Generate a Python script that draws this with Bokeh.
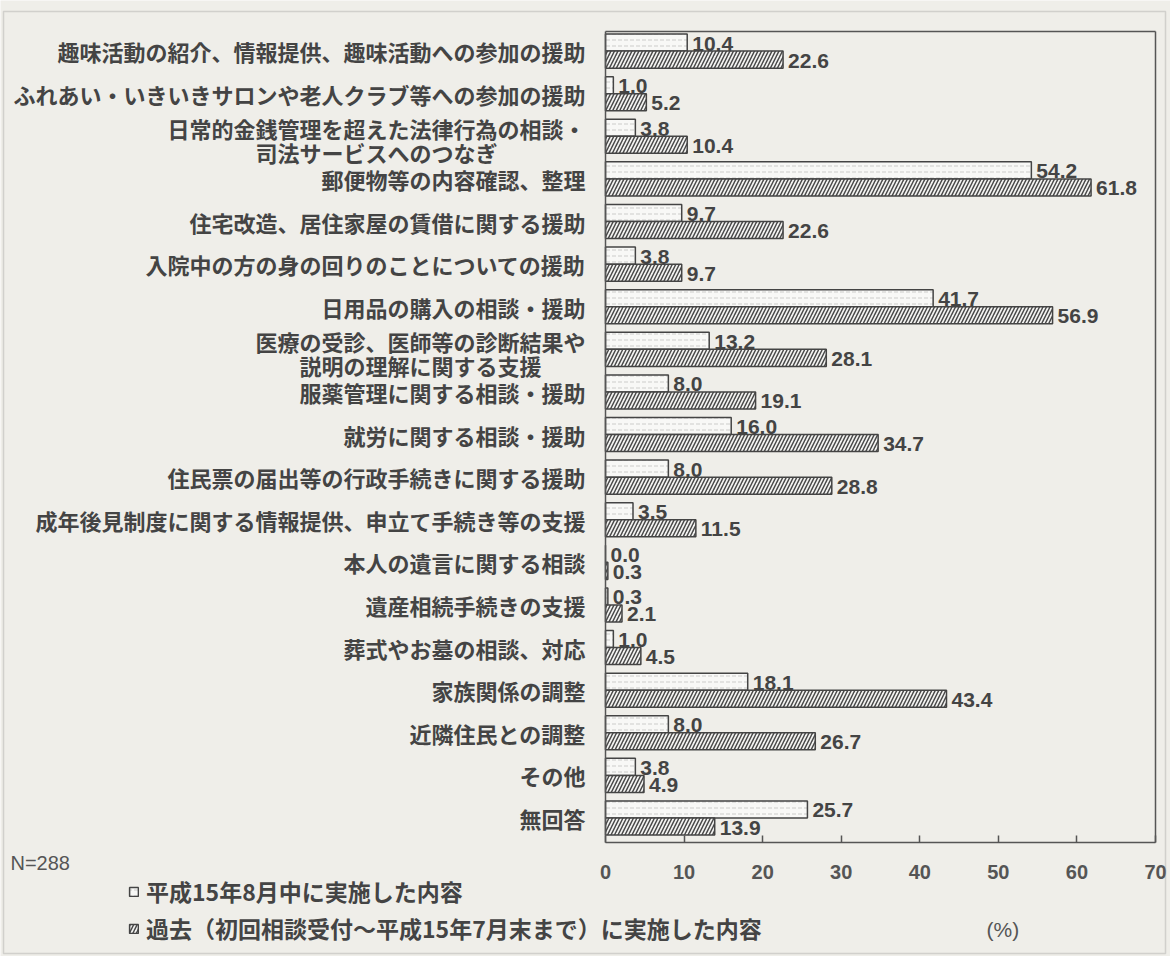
from bokeh.plotting import figure
from bokeh.models import (Range1d, FixedTicker, ColumnDataSource, LabelSet,
                          Legend, LegendItem, Label, LinearAxis, BoxAnnotation)
from bokeh.core.properties import value
from bokeh.embed import file_html
from bokeh.resources import INLINE

# ---------------- data ----------------
categories = [
    "趣味活動の紹介、情報提供、趣味活動への参加の援助",
    "ふれあい・いきいきサロンや老人クラブ等への参加の援助",
    "日常的金銭管理を超えた法律行為の相談・\n司法サービスへのつなぎ",
    "郵便物等の内容確認、整理",
    "住宅改造、居住家屋の賃借に関する援助",
    "入院中の方の身の回りのことについての援助",
    "日用品の購入の相談・援助",
    "医療の受診、医師等の診断結果や\n説明の理解に関する支援",
    "服薬管理に関する相談・援助",
    "就労に関する相談・援助",
    "住民票の届出等の行政手続きに関する援助",
    "成年後見制度に関する情報提供、申立て手続き等の支援",
    "本人の遺言に関する相談",
    "遺産相続手続きの支援",
    "葬式やお墓の相談、対応",
    "家族関係の調整",
    "近隣住民との調整",
    "その他",
    "無回答",
]
aug_2003 = [10.4, 1.0, 3.8, 54.2, 9.7, 3.8, 41.7, 13.2, 8.0, 16.0, 8.0, 3.5,
            0.0, 0.3, 1.0, 18.1, 8.0, 3.8, 25.7]
past = [22.6, 5.2, 10.4, 61.8, 22.6, 9.7, 56.9, 28.1, 19.1, 34.7, 28.8, 11.5,
        0.3, 2.1, 4.5, 43.4, 26.7, 4.9, 13.9]
x_ticks = [0, 10, 20, 30, 40, 50, 60, 70]
legend_labels = ["平成15年8月中に実施した内容",
                 "過去（初回相談受付～平成15年7月末まで）に実施した内容"]
sample_note = "N=288"
unit_label = "(%)"

# ---------------- layout / styling ----------------
W, H = 1170, 956
PX_L, PX_R = 605, 1155      # pixel position of value 0 and 70
PY_T, PY_B = 31, 842        # pixel position of plot box top / bottom
X_MIN, X_MAX = 0, 70
Y_TOP, Y_BOT = -0.46, 18.575

sx = (PX_R - PX_L) / (X_MAX - X_MIN)
sy = (PY_B - PY_T) / (Y_BOT - Y_TOP)
x_range = Range1d(X_MIN - PX_L / sx, X_MAX + (W - PX_R) / sx)
y_range = Range1d(Y_BOT + (H - PY_B) / sy, Y_TOP - PY_T / sy)

BG = "#efeee9"
INK = "#444444"
FRAME = "#555555"
JP = "Noto Sans CJK JP"
NUM = "Liberation Sans"
CAT_FS = 22
CAT_STANDOFF = 20

n = len(categories)
idx = list(range(n))
BAR_H = 0.4
OFF = 0.2
LINE1_SHIFT, LINE2_SHIFT = -0.1875, 0.375   # two-line category labels

src1 = ColumnDataSource(dict(y=[i - OFF for i in idx], v=aug_2003,
                             t=[f"{v:.1f}" for v in aug_2003]))
src2 = ColumnDataSource(dict(y=[i + OFF for i in idx], v=past,
                             t=[f"{v:.1f}" for v in past]))

# split two-line category labels: first line on the axis, second line
# centred under the first one
tick_pos, overrides = [], {}
second = dict(x=[], y=[], t=[], xo=[])
for i, c in zip(idx, categories):
    parts = c.split("\n")
    if len(parts) == 1:
        tick_pos.append(i)
        overrides[i] = c
    else:
        tick_pos.append(i + LINE1_SHIFT)
        overrides[i + LINE1_SHIFT] = parts[0]
        second["x"].append(X_MIN)
        second["y"].append(i + LINE2_SHIFT)
        second["t"].append(parts[1])
        second["xo"].append(-(CAT_STANDOFF + len(parts[0]) * CAT_FS / 2))
src_second = ColumnDataSource(second)

p = figure(width=W, height=H, output_backend="svg", toolbar_location=None,
           x_range=x_range, y_range=y_range, x_axis_location=None,
           y_axis_location=None,
           min_border_left=0, min_border_right=0, min_border_top=0,
           min_border_bottom=0)
p.background_fill_color = BG
p.border_fill_color = BG
p.outline_line_color = None
p.xgrid.visible = False
p.ygrid.visible = False

# scanned page border
p.add_layout(BoxAnnotation(left=3, right=1165, top=11, bottom=953,
                           left_units="canvas", right_units="canvas",
                           top_units="canvas", bottom_units="canvas",
                           fill_alpha=0, line_color="#8c8c8c", line_width=1.5))

r1 = p.hbar(y="y", right="v", left=0, height=BAR_H, source=src1,
            fill_color="#f8f8f6", line_color=INK, line_width=1.5,
            hatch_pattern="horizontal_dash", hatch_color="#a0a0a0",
            hatch_alpha=0.5, hatch_scale=6, hatch_weight=1)
r2 = p.hbar(y="y", right="v", left=0, height=BAR_H, source=src2,
            fill_color="#f4f4f2", line_color=INK, line_width=1.5,
            hatch_pattern="right_diagonal_line", hatch_color="#4a4a4a",
            hatch_scale=7, hatch_weight=1.5)

for s in (src1, src2):
    p.add_layout(LabelSet(x="v", y="y", text="t", source=s, x_offset=5,
                          y_offset=-1,
                          text_baseline="middle", text_align="left",
                          text_font=value(NUM), text_font_style="bold",
                          text_font_size="21px", text_color=INK))

# y axis (left edge of the plot box) with category labels
ya = LinearAxis(fixed_location=X_MIN, bounds=(Y_TOP, Y_BOT))
ya.ticker = FixedTicker(ticks=tick_pos)
ya.major_label_overrides = overrides
ya.major_tick_line_color = None
ya.minor_tick_line_color = None
ya.major_tick_out = 0
ya.major_tick_in = 0
ya.major_label_standoff = CAT_STANDOFF
ya.axis_line_color = FRAME
ya.axis_line_width = 1.5
ya.major_label_text_font = JP
ya.major_label_text_font_style = "bold"
ya.major_label_text_font_size = f"{CAT_FS}px"
ya.major_label_text_color = INK
p.add_layout(ya, "left")

# second lines of the two-line category labels
p.add_layout(LabelSet(x="x", y="y", text="t", source=src_second,
                      x_offset="xo", text_align="center",
                      text_baseline="middle",
                      text_font=value(JP), text_font_style="bold",
                      text_font_size=f"{CAT_FS}px", text_color=INK))

# x axis (bottom edge of the plot box)
xa = LinearAxis(fixed_location=Y_BOT, bounds=(X_MIN, X_MAX))
xa.ticker = FixedTicker(ticks=x_ticks)
xa.major_tick_in = 7
xa.major_tick_out = 0
xa.minor_tick_line_color = None
xa.major_tick_line_color = FRAME
xa.major_tick_line_width = 1.5
xa.axis_line_color = FRAME
xa.axis_line_width = 1.5
xa.major_label_standoff = 22
xa.major_label_text_font = NUM
xa.major_label_text_font_style = "bold"
xa.major_label_text_font_size = "20px"
xa.major_label_text_color = FRAME
p.add_layout(xa, "below")

# top and right edges of the plot box
for loc, side, b in ((Y_TOP, "above", (X_MIN, X_MAX)),
                     (X_MAX, "right", (Y_TOP, Y_BOT))):
    ax = LinearAxis(fixed_location=loc, bounds=b)
    ax.major_tick_line_color = None
    ax.minor_tick_line_color = None
    ax.major_label_text_color = None
    ax.major_label_text_font_size = "0px"
    ax.axis_line_color = FRAME
    ax.axis_line_width = 1.5
    p.add_layout(ax, side)

legend = Legend(items=[LegendItem(label=legend_labels[0], renderers=[r1]),
                       LegendItem(label=legend_labels[1], renderers=[r2])],
                location=(128, H - 945), orientation="vertical",
                background_fill_alpha=0, border_line_color=None,
                label_text_font=JP, label_text_font_size="23px",
                label_text_font_style="bold",
                label_text_color=INK, glyph_width=11, glyph_height=11,
                label_standoff=7, spacing=3, padding=0, margin=0)
p.add_layout(legend, "center")

p.add_layout(Label(x=10, y=H - 862, x_units="screen", y_units="screen",
                   text=sample_note, text_font=NUM, text_font_size="20px",
                   text_color=FRAME, text_baseline="middle"))
p.add_layout(Label(x=986, y=H - 929, x_units="screen", y_units="screen",
                   text=unit_label, text_font=NUM, text_font_size="21px",
                   text_color=FRAME, text_baseline="middle"))

open("out.html", "w").write(file_html(p, INLINE))
